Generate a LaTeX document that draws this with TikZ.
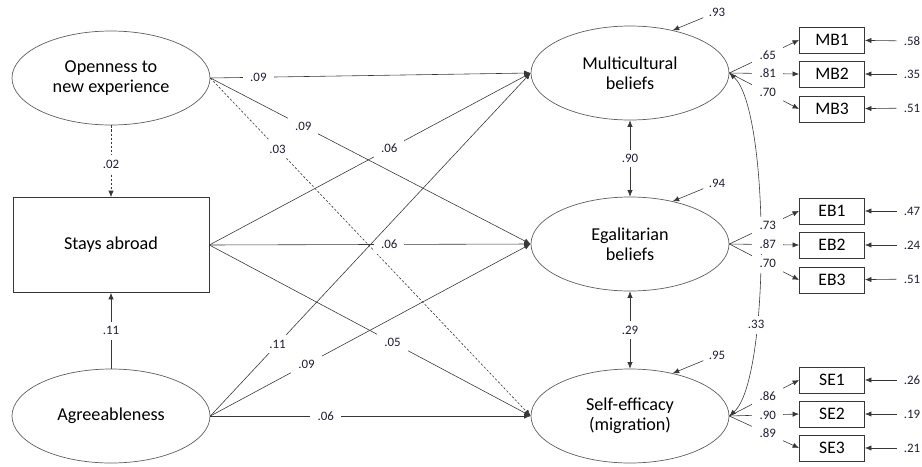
\documentclass[tikz,border=0pt]{standalone}
\usepackage{fontspec}
\setmainfont{Carlito}
\usetikzlibrary{shapes.geometric,arrows.meta}
\definecolor{linea}{RGB}{55,55,55}
\definecolor{bordo}{RGB}{95,95,95}
\definecolor{numero}{RGB}{30,30,60}

\begin{document}
\begin{tikzpicture}[x=0.03cm,y=-0.03cm,
    lat/.style={ellipse,draw=bordo,line width=0.6pt,minimum width=5.94cm,minimum height=2.82cm,
        inner sep=0pt,align=center,font=\fontsize{15.5}{17}\selectfont},
    scatola/.style={draw=linea,line width=0.6pt,minimum width=5.88cm,minimum height=2.85cm,
        font=\fontsize{15.5}{17}\selectfont},
    oss/.style={draw=linea,line width=0.8pt,minimum width=1.95cm,minimum height=0.78cm,
        inner sep=0pt,font=\fontsize{15}{17}\selectfont},
    freccia/.style={draw=linea,line width=0.5pt,-{Latex[length=5.5pt,width=4.5pt]}},
    doppia/.style={draw=linea,line width=0.5pt,{Latex[length=5.5pt,width=4.5pt]}-{Latex[length=5.5pt,width=4.5pt]}},
    tratteggio/.style={dash pattern=on 2pt off 1.5pt},
    coef/.style={fill=white,inner xsep=6pt,inner ysep=4pt,text=numero,font=\fontsize{11}{12}\selectfont},
    res/.style={inner xsep=6pt,inner ysep=1pt,text=numero,font=\fontsize{11}{12}\selectfont}]
    \useasboundingbox (0,0) rectangle (922,466);

    \node[lat] (O) at (111,78) {Openness to\\new experience};
    \node[scatola] (S) at (111,245) {Stays abroad};
    \node[lat] (A) at (111,416) {Agreeableness};
    \node[lat] (MB) at (630,73) {Multicultural\\beliefs};
    \node[lat] (EB) at (630,244) {Egalitarian\\beliefs};
    \node[lat] (SE) at (630,416) {Self-efficacy\\(migration)};

    % indicatori
    \foreach \n/\y in {1/40,2/74,3/109} \node[oss] (MB\n) at (832,\y) {MB\n};
    \foreach \n/\y in {1/211,2/245,3/280} \node[oss] (EB\n) at (832,\y) {EB\n};
    \foreach \n/\y in {1/380,2/414,3/448} \node[oss] (SE\n) at (832,\y) {SE\n};

    \draw[freccia,tratteggio] (O) -- node[coef,pos=.54]{.02} (S);
    \draw[freccia] (A) -- node[coef,pos=.5]{.11} (S);

    \draw[freccia] (O.east) -- node[coef,pos=.15]{.09} (MB.west);
    \draw[freccia] (O.east) -- node[coef,pos=.29]{.09} (EB.west);
    \draw[freccia,tratteggio] (O.east) -- node[coef,pos=.21]{.03} (SE.west);
    \draw[freccia] (S.east) -- node[coef,pos=.56]{.06} (MB.west);
    \draw[freccia] (S.east) -- node[coef,pos=.56]{.06} (EB.west);
    \draw[freccia] (S.east) -- node[coef,pos=.57]{.05} (SE.west);
    \draw[freccia] (A.east) -- node[coef,pos=.21]{.11} (MB.west);
    \draw[freccia] (A.east) -- node[coef,pos=.30]{.09} (EB.west);
    \draw[freccia] (A.east) -- node[coef,pos=.36]{.06} (SE.west);

    \draw[doppia] (MB) -- node[coef]{.90} (EB);
    \draw[doppia] (EB) -- node[coef]{.29} (SE);
    \draw[doppia] (MB.east) .. controls +(41,37) and +(41,-36) .. node[coef,pos=.68]{.33} (SE.east);

    % residui dei fattori
    \node[res] (rMB) at (717,12) {.93};
    \node[res] (rEB) at (717,183) {.94};
    \node[res] (rSE) at (717,355) {.95};
    \draw[freccia] (rMB) -- (MB.45);
    \draw[freccia] (rEB) -- (EB.45);
    \draw[freccia] (rSE) -- (SE.45);

    % saturazioni
    \foreach \n/\v in {1/.65,2/.81,3/.70} \draw[freccia] (MB.east) -- node[coef,pos=.55]{\v} (MB\n.west);
    \foreach \n/\v in {1/.73,2/.87,3/.70} \draw[freccia] (EB.east) -- node[coef,pos=.55]{\v} (EB\n.west);
    \foreach \n/\v in {1/.86,2/.90,3/.89} \draw[freccia] (SE.east) -- node[coef,pos=.55]{\v} (SE\n.west);

    \foreach \g/\n/\v/\y in {MB/1/.58/41,MB/2/.35/74,MB/3/.51/108,EB/1/.47/211,EB/2/.24/245,EB/3/.51/279,SE/1/.26/380,SE/2/.19/414,SE/3/.21/448}{
        \node[res] (e\g\n) at (912,\y) {\v};
        \draw[freccia] (e\g\n) -- (\g\n);
    }
\end{tikzpicture}
\end{document}
